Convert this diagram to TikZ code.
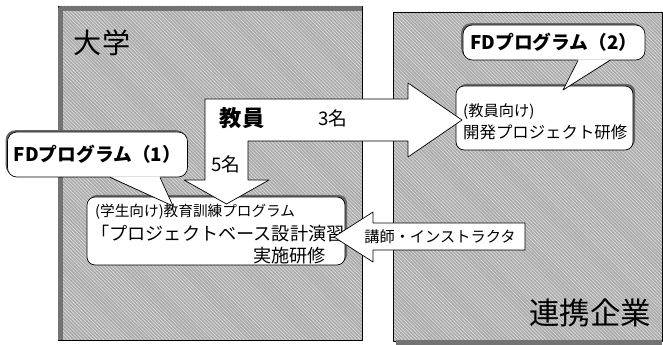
\documentclass[tikz,border=0pt]{standalone}
\usepackage{fontspec}
\setmainfont{Noto Sans CJK JP}
\usetikzlibrary{patterns,shadows,calc}
\newcommand{\fsz}[2]{\fontsize{#1pt}{#2pt}\selectfont}
\begin{document}
\begin{tikzpicture}[x=0.03cm,y=-0.03cm,line join=round,font=\fsz{13}{16},
    hatch/.style={preaction={fill=black!32},pattern=north west lines,pattern color=black!12},
    edge/.style={line width=4pt,black!55},
    txt/.style={inner sep=0pt},
    ibox/.style={draw,fill=white,rounded corners=7pt,line width=0.6pt,
      drop shadow={shadow xshift=1.8pt,shadow yshift=1.8pt,fill=black!60,opacity=1}},
    fdbox/.style={draw,fill=white,rounded corners=8pt,line width=0.6pt,inner sep=0pt,
      drop shadow={shadow xshift=-1.5pt,shadow yshift=1.5pt,fill=black!60,opacity=1},
      font=\bfseries\fsz{16}{19}},
    barrow/.style={draw,fill=white,line width=0.6pt}]
  \useasboundingbox (0,0) rectangle (663,345);
  % panels
  \path[hatch] (58,6) rectangle (362,340);
  \draw[line width=0.5pt] (58,6) rectangle (362,340);
  \draw[edge] (60.5,340) -- (60.5,8.5) -- (362,8.5);
  \path[hatch] (393,12) rectangle (662,341);
  \draw[line width=0.5pt] (393,12) rectangle (662,341);
  \draw[edge] (396,342.5) -- (662,342.5);
  % inner boxes
  \node[ibox,minimum width=7.74cm,minimum height=2.04cm] (ib1) at (216,231) {};
  \node[txt,anchor=west,font=\fsz{12.5}{15}] (ib1a) at (95,212) {(学生向け)教育訓練プログラム};
  \node[txt,anchor=west,font=\fsz{15.5}{18}] (ib1b) at (91,234) {「プロジェクトベース設計演習」};
  \node[txt,anchor=east,font=\fsz{15.5}{18}] (ib1c) at (326,256) {実施研修};
  \node[ibox,minimum width=5.31cm,minimum height=1.92cm] (ib2) at (544.5,118) {};
  \node[txt,anchor=west,font=\fsz{13}{15}] (ib2a) at (463,112) {(教員向け)};
  \node[txt,anchor=west,font=\fsz{14}{17}] (ib2b) at (463,132) {開発プロジェクト研修};
  % block arrows
  \draw[barrow] (205,99) -- (408,99) -- (408,83) -- (462,120) -- (408,157) -- (408,141)
    -- (248,141) -- (248,180) -- (269,180) -- (226.5,204) -- (184,180) -- (205,180) -- cycle;
  \draw[barrow] (525,223) -- (373,223) -- (373,212) -- (334,237) -- (373,262) -- (373,250)
    -- (525,250) -- cycle;
  \node[font=\bfseries\fsz{19}{22}] (staff) at (242,118) {教員};
  \node[font=\fsz{16}{19}] (n3) at (333,118) {3名};
  \node[font=\fsz{16}{19}] (n5) at (226,164) {5名};
  \node[font=\fsz{13}{16}] (inst) at (440,237) {講師・インストラクタ};
  % callouts
  \node[fdbox,minimum width=5.4cm,minimum height=1.35cm] (fd1) at (97.5,154.5) {FDプログラム（1）};
  \coordinate (fd1tip) at (173,206);
  \fill[white] ($(fd1.south)+(12.5,-1)$) -- (fd1tip) -- ($(fd1.south)+(62.5,-1)$) -- cycle;
  \draw[line width=0.6pt] ($(fd1.south)+(12.5,0)$) -- (fd1tip) -- ($(fd1.south)+(62.5,0)$);
  \node[fdbox,minimum width=5.46cm,minimum height=1.05cm] (fd2) at (554,42.5) {FDプログラム（2）};
  \coordinate (fd2tip) at (563,90);
  \fill[white] ($(fd2.south)+(24,-1)$) -- (fd2tip) -- ($(fd2.south)+(56,-1)$) -- cycle;
  \draw[line width=0.6pt] ($(fd2.south)+(24,0)$) -- (fd2tip) -- ($(fd2.south)+(56,0)$);
  % labels
  \node[font=\fsz{24}{28}] (univ) at (102,43) {大学};
  \node[font=\fsz{26}{30}] (corp) at (590,313) {連携企業};
\end{tikzpicture}
\end{document}
